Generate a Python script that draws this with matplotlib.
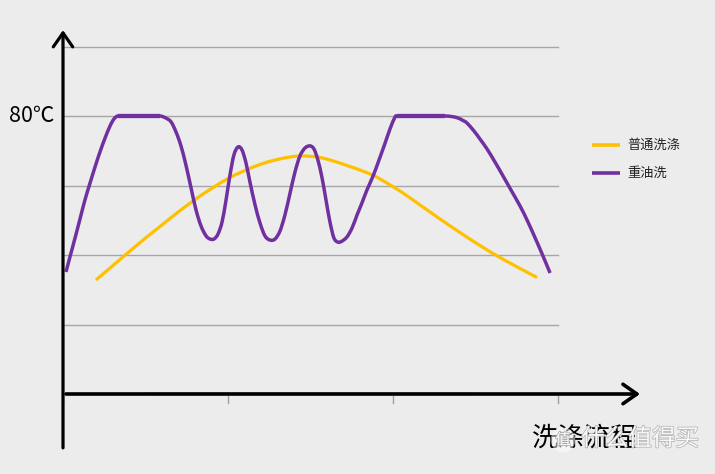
import matplotlib
matplotlib.use("Agg")
import matplotlib.pyplot as plt
import matplotlib.patheffects as pe
from matplotlib.path import Path
from matplotlib.patches import PathPatch

plt.rcParams['font.family'] = ['Noto Sans CJK SC', 'DejaVu Sans']

# Process time (arbitrary units, ticks every 10) and temperature (°C)
grid_levels = [20, 40, 60, 80, 100]
tick_positions = [0, 10, 20, 30]
y_label = "80℃"
x_label = "洗涤流程"
series_names = ["普通洗涤", "重油洗"]

normal_x = [2.0, 2.85, 3.88, 4.97, 5.88, 6.79, 7.88, 8.91, 10.12, 11.03, 11.94, 12.85,
            13.76, 14.36, 14.97, 15.58, 16.48, 17.39, 18.0, 18.79, 19.21, 20.42, 21.64,
            22.85, 24.06, 25.27, 26.48, 27.70, 28.73]
normal_y = [32.8, 36.26, 40.43, 44.75, 48.2, 51.66, 55.54, 58.85, 62.3, 64.32, 66.04, 67.34,
            68.2, 68.49, 68.4, 68.06, 66.91, 65.47, 64.46, 62.94, 61.87, 58.42, 54.39,
            50.36, 46.47, 42.73, 39.28, 36.12, 33.53]

heavy_x = [0.18, 0.42, 0.73, 1.03, 1.33, 1.64, 1.94, 2.24, 2.55, 2.85, 3.09, 3.33, 5.88,
           6.24, 6.55, 6.85, 7.15, 7.45, 7.76, 8.06, 8.36, 8.67, 8.91, 9.15, 9.39, 9.64,
           9.88, 10.12, 10.36, 10.61, 10.85, 11.09, 11.33, 11.64, 11.94, 12.24, 12.55,
           12.85, 13.15, 13.45, 13.76, 14.06, 14.36, 14.67, 14.97, 15.21, 15.45, 15.70,
           15.94, 16.18, 16.42, 16.67, 16.91, 17.21, 17.52, 17.82, 18.12, 18.42, 18.79,
           19.15, 19.52, 19.82, 20.12, 20.24, 23.15, 23.58, 23.94, 24.24, 24.48, 24.91,
           25.27, 25.70, 26.18, 26.67, 27.15, 27.70, 28.18, 28.67, 29.09, 29.52]
heavy_y = [35.11, 39.42, 44.89, 50.36, 55.83, 60.72, 65.32, 69.64, 73.67, 77.12, 79.14, 80.0, 80.0,
           79.4, 78.3, 75.4, 71.4, 65.9, 59.3, 53.0, 48.4, 45.5, 44.6, 44.6, 46.0, 49.5,
           55.8, 63.0, 68.8, 71.1, 70.2, 66.5, 61.0, 54.4, 49.2, 45.5, 44.3,
           44.6, 46.9, 51.5, 57.8, 63.9, 68.5, 70.8, 71.4, 70.5, 67.3, 62.2,
           55.8, 49.5, 44.9, 43.7, 44.0, 45.2, 47.8, 51.5, 55.0, 58.7, 62.7,
           67.3, 72.2, 76.3, 79.7, 80.0, 80.0, 79.83, 79.42, 78.71, 77.99, 75.68,
           73.38, 70.50, 66.76, 62.73, 58.71, 54.1, 49.5, 44.32, 39.71, 34.82]

plateaus = [(3.33, 5.88), (20.24, 23.15)]

YELLOW = "#ffc000"
PURPLE = "#7030a0"
BG = "#ececec"


def smooth_path(xs, ys, straight=()):
    """Bezier path through the given points (Catmull-Rom style control points)."""
    pts = list(zip(xs, ys))
    n = len(pts)
    verts = [pts[0]]
    codes = [Path.MOVETO]
    for i in range(n - 1):
        p0 = pts[i - 1] if i > 0 else pts[i]
        p1 = pts[i]
        p2 = pts[i + 1]
        p3 = pts[i + 2] if i + 2 < n else pts[i + 1]
        if (p1[0], p2[0]) in straight:
            verts.append(p2)
            codes.append(Path.LINETO)
            continue
        t1 = ((p2[0] - p0[0]) / 6, (p2[1] - p0[1]) / 6)
        t2 = ((p3[0] - p1[0]) / 6, (p3[1] - p1[1]) / 6)
        for a, b in straight:
            if p1[0] == b:
                t1 = ((p2[0] - p1[0]) / 3, 0)
            if p2[0] == a:
                t2 = ((p2[0] - p1[0]) / 3, 0)
        c1 = (p1[0] + t1[0], p1[1] + t1[1])
        c2 = (p2[0] - t2[0], p2[1] - t2[1])
        verts += [c1, c2, p2]
        codes += [Path.CURVE4] * 3
    return Path(verts, codes)


fig = plt.figure(figsize=(7.15, 4.74), dpi=100, facecolor=BG)
ax = fig.add_axes([0, 0, 1, 1])
ax.set_facecolor(BG)
k = 20 / 69.5
ax.set_xlim(-63 / 16.5, 652 / 16.5)
ax.set_ylim(-80 * k, 394 * k)
ax.axis('off')

# gridlines
for g in grid_levels:
    ax.plot([0, 30], [g, g], color="#a6a6a6", lw=1.0, zorder=1)

# tick marks below x axis
for t in tick_positions:
    ax.plot([t, t], [-0.6, -2.6], color="#a0a0a0", lw=1.0, zorder=1)

# series
ax.add_patch(PathPatch(smooth_path(normal_x, normal_y), facecolor='none',
                       edgecolor=YELLOW, lw=2.3, capstyle='butt', joinstyle='round', zorder=3))
ax.add_patch(PathPatch(smooth_path(heavy_x, heavy_y, straight=plateaus), facecolor='none',
                       edgecolor=PURPLE, lw=2.5, capstyle='butt', joinstyle='round', zorder=4))
for a, b in plateaus:
    ax.plot([a, b], [80, 80], color=PURPLE, lw=3.1, solid_capstyle='butt', zorder=4)

# faint purple trace on the x axis
ax.plot([4.97, 25.1], [0.35, 0.35], color=PURPLE, lw=1.0, zorder=4)

# axes with arrows
ax.annotate('', xy=(0, 104.7), xytext=(0, -15.5),
            arrowprops=dict(arrowstyle='->,head_length=0.5,head_width=0.35',
                            lw=2.3, color='black', mutation_scale=20, shrinkA=0, shrinkB=0),
            zorder=5)
ax.annotate('', xy=(34.97, 0), xytext=(0.18, 0),
            arrowprops=dict(arrowstyle='->,head_length=0.5,head_width=0.35',
                            lw=2.6, color='black', mutation_scale=20, shrinkA=0, shrinkB=0),
            zorder=5)

# texts
ax.text(-0.55, 80, y_label, ha='right', va='center', fontsize=15.5, color='black')
ax.text(28.4, -12.7, x_label, ha='left', va='center', fontsize=19, color='black')

# legend
for (yy, col, name) in [(71.7, YELLOW, series_names[0]), (63.6, PURPLE, series_names[1])]:
    ax.plot([32.06, 33.76], [yy, yy], color=col, lw=2.6, solid_capstyle='butt')
    ax.text(34.2, yy, name, ha='left', va='center', fontsize=9.5, color='#222222')

# watermark
wm = [pe.withStroke(linewidth=1.0, foreground='#a8a8a8')]
ax.text(30.3, -13.2, "值", ha='center', va='center', fontsize=11, color='white',
        path_effects=wm,
        bbox=dict(boxstyle='circle,pad=0.25', facecolor='white', alpha=0.5, edgecolor='none'))
ax.text(31.4, -13.0, "什么值得买", ha='left', va='center', fontsize=17, color='white',
        alpha=0.9, path_effects=wm)

fig.savefig("out.png", dpi=100, facecolor=BG)
